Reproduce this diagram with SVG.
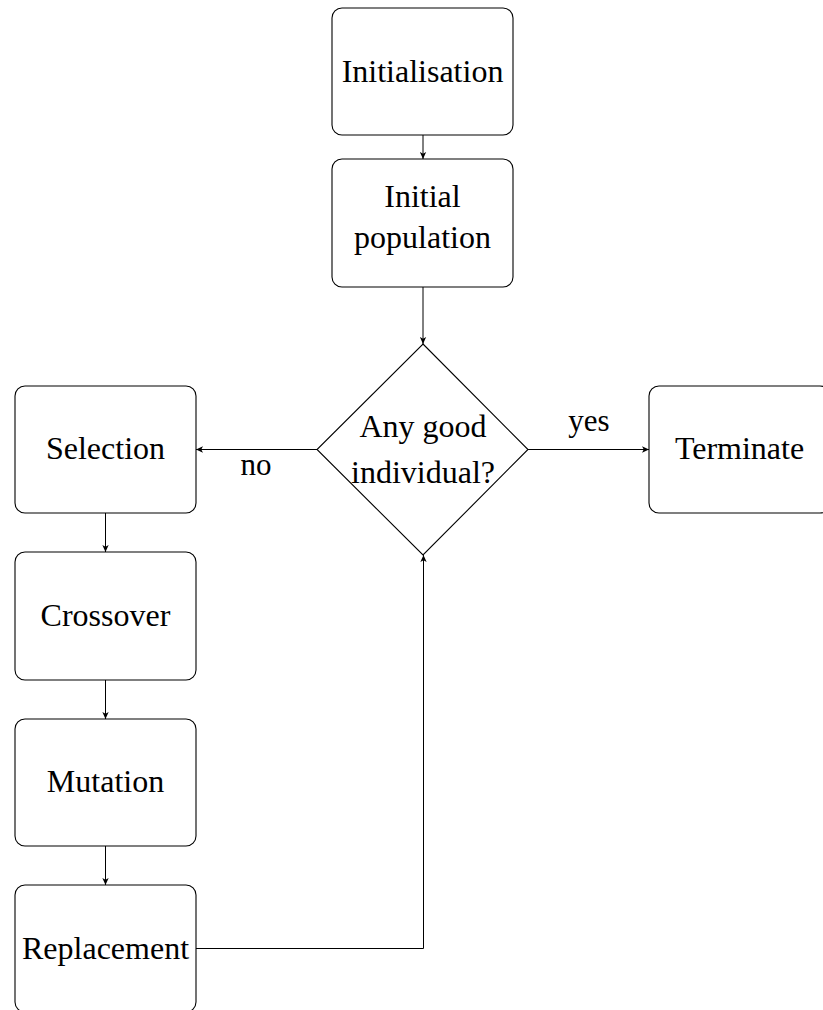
<svg xmlns="http://www.w3.org/2000/svg" width="823" height="1010" viewBox="0 0 823 1010">
  <defs>
    <style>
      .box { fill: #fff; stroke: #000; stroke-width: 1.1; }
      .lbl { font-family: "Liberation Serif", "Times New Roman", serif; font-size: 32px; fill: #000; text-anchor: middle; }
      .edge { fill: none; stroke: #000; stroke-width: 1; }
      .tag { font-family: "Liberation Serif", "Times New Roman", serif; font-size: 31px; fill: #000; text-anchor: middle; }
    </style>
    <marker id="arrow" viewBox="0 0 10 10" refX="10" refY="5" markerWidth="7" markerHeight="7" markerUnits="userSpaceOnUse" orient="auto">
      <path d="M0,0.5 L10,5 L0,9.5 L2.5,5 Z" fill="#000"/>
    </marker>
  </defs>

  <!-- connectors -->
  <g id="connectors">
    <line class="edge" x1="423" y1="135" x2="423" y2="159" marker-end="url(#arrow)"/>
    <line class="edge" x1="423" y1="287" x2="423" y2="344" marker-end="url(#arrow)"/>
    <line class="edge" x1="317" y1="449.5" x2="196" y2="449.5" marker-end="url(#arrow)"/>
    <line class="edge" x1="528" y1="449.5" x2="649" y2="449.5" marker-end="url(#arrow)"/>
    <line class="edge" x1="105.5" y1="513" x2="105.5" y2="552" marker-end="url(#arrow)"/>
    <line class="edge" x1="105.5" y1="680" x2="105.5" y2="719" marker-end="url(#arrow)"/>
    <line class="edge" x1="105.5" y1="846" x2="105.5" y2="885" marker-end="url(#arrow)"/>
    <polyline class="edge" points="196,948.5 423.5,948.5 423.5,555" marker-end="url(#arrow)"/>
    <text class="tag" x="256" y="475">no</text>
    <text class="tag" x="589" y="431">yes</text>
  </g>

  <g id="initialisation">
    <rect class="box" x="332" y="8" width="181" height="127" rx="10"/>
    <text class="lbl" x="422.5" y="82">Initialisation</text>
  </g>

  <g id="initial-population">
    <rect class="box" x="332" y="159" width="181" height="128" rx="10"/>
    <text class="lbl" x="422.5" y="207">Initial</text>
    <text class="lbl" x="422.5" y="248">population</text>
  </g>

  <g id="any-good">
    <polygon class="box" points="423,344 528,449.5 423,555 317,449.5"/>
    <text class="lbl" x="423" y="437">Any good</text>
    <text class="lbl" x="423" y="483">individual?</text>
  </g>

  <g id="terminate">
    <rect class="box" x="649" y="386" width="181" height="127" rx="10"/>
    <text class="lbl" x="739.5" y="459">Terminate</text>
  </g>

  <g id="selection">
    <rect class="box" x="15" y="386" width="181" height="127" rx="10"/>
    <text class="lbl" x="105.5" y="459">Selection</text>
  </g>

  <g id="crossover">
    <rect class="box" x="15" y="552" width="181" height="128" rx="10"/>
    <text class="lbl" x="105.5" y="626">Crossover</text>
  </g>

  <g id="mutation">
    <rect class="box" x="15" y="719" width="181" height="127" rx="10"/>
    <text class="lbl" x="105.5" y="792">Mutation</text>
  </g>

  <g id="replacement">
    <rect class="box" x="15" y="885" width="181" height="127" rx="10"/>
    <text class="lbl" x="105.5" y="959">Replacement</text>
  </g>
</svg>
